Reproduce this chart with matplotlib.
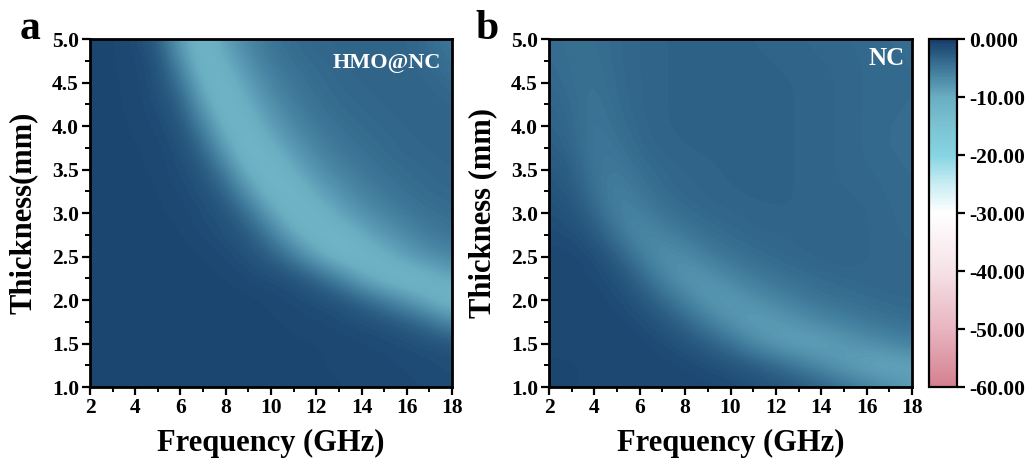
import numpy as np
import matplotlib
matplotlib.use("Agg")
import matplotlib.pyplot as plt
from matplotlib.colors import LinearSegmentedColormap, Normalize
from matplotlib.ticker import MultipleLocator
import matplotlib.cm as cm

plt.rcParams['font.family'] = ['Liberation Serif', 'DejaVu Serif']
plt.rcParams['font.weight'] = 'bold'

# Frequency (GHz) columns and thickness (mm) rows of the reflection-loss maps
freq = [2, 3, 4, 5, 6, 7, 8, 9, 10, 11, 12, 13, 14, 15, 16, 17, 18]
thick = [1.0, 1.25, 1.5, 1.75, 2.0, 2.25, 2.5, 2.75, 3.0,
         3.25, 3.5, 3.75, 4.0, 4.25, 4.5, 4.75, 5.0]

# Reflection loss (dB) of HMO@NC, one row per thickness (bottom to top)
rl_hmo = [
    [-0.7, -0.7, -0.7, -0.7, -0.8, -0.8, -0.8, -0.8, -0.8, -0.8, -0.9, -0.9, -1.0, -1.0, -1.1, -1.2, -1.3],
    [-0.8, -0.8, -0.8, -0.8, -0.8, -0.8, -0.8, -0.8, -0.8, -0.9, -0.9, -1.0, -1.0, -1.1, -1.2, -1.3, -1.5],
    [-0.8, -0.8, -0.8, -0.8, -0.8, -0.8, -0.8, -0.8, -0.8, -0.9, -0.9, -1.0, -1.1, -1.2, -1.4, -1.6, -1.9],
    [-0.8, -0.8, -0.8, -0.8, -0.8, -0.8, -0.8, -0.8, -0.9, -1.0, -1.1, -1.3, -1.5, -1.9, -2.7, -4.4, -7.0],
    [-0.8, -0.8, -0.8, -0.8, -0.8, -0.8, -0.8, -0.8, -1.0, -1.2, -1.5, -1.9, -3.3, -5.4, -7.9, -10.6, -12.0],
    [-0.8, -0.8, -0.8, -0.8, -0.8, -0.8, -0.9, -1.2, -1.4, -1.7, -3.3, -5.9, -9.5, -11.7, -12.5, -11.1, -9.6],
    [-0.8, -0.8, -0.8, -0.8, -0.8, -0.9, -1.2, -1.7, -2.7, -5.4, -9.0, -11.8, -12.1, -10.7, -8.6, -7.3, -6.2],
    [-0.8, -0.8, -0.8, -0.8, -0.9, -1.2, -1.6, -2.4, -5.4, -9.7, -11.9, -11.9, -9.9, -8.0, -6.6, -5.4, -4.8],
    [-0.8, -0.8, -0.8, -0.9, -1.0, -1.4, -2.0, -4.4, -9.0, -11.9, -11.6, -9.4, -7.4, -6.2, -5.1, -4.5, -4.1],
    [-0.8, -0.8, -0.8, -0.9, -1.2, -1.7, -3.3, -7.9, -11.8, -11.9, -9.4, -7.4, -6.0, -5.0, -4.3, -3.9, -3.7],
    [-0.8, -0.8, -0.9, -1.0, -1.4, -2.2, -5.9, -11.0, -12.1, -9.9, -7.4, -6.0, -5.0, -4.3, -3.9, -3.7, -3.5],
    [-0.8, -0.8, -0.9, -1.0, -1.6, -3.7, -9.0, -12.4, -10.7, -8.0, -6.2, -5.0, -4.3, -3.9, -3.6, -3.5, -3.3],
    [-0.8, -0.8, -1.0, -1.2, -2.0, -5.9, -11.3, -11.6, -8.6, -6.6, -5.1, -4.4, -3.9, -3.7, -3.5, -3.3, -3.3],
    [-0.8, -0.9, -1.0, -1.4, -2.9, -8.7, -12.5, -10.0, -7.3, -5.5, -4.5, -3.9, -3.7, -3.5, -3.3, -3.3, -3.5],
    [-0.8, -0.9, -1.0, -1.7, -4.4, -11.0, -11.6, -8.5, -6.2, -4.8, -4.1, -3.7, -3.5, -3.3, -3.3, -3.5, -4.1],
    [-0.8, -0.9, -1.1, -1.7, -7.0, -12.2, -10.1, -7.1, -5.2, -4.3, -3.8, -3.6, -3.3, -3.3, -3.4, -3.8, -4.6],
    [-0.8, -0.9, -1.2, -2.7, -9.0, -12.1, -8.6, -6.2, -4.7, -3.9, -3.6, -3.4, -3.3, -3.3, -3.5, -4.1, -5.2],
]

# Reflection loss (dB) of NC, one row per thickness (bottom to top)
rl_nc = [
    [-0.9, -0.9, -1.0, -1.0, -1.0, -1.0, -1.0, -1.0, -1.1, -1.4, -1.8, -2.3, -3.0, -4.2, -5.5, -6.9, -8.2],
    [-0.9, -0.9, -1.0, -1.0, -1.0, -1.0, -1.1, -1.4, -1.9, -2.5, -3.7, -5.1, -6.9, -8.5, -9.6, -10.0, -9.4],
    [-1.0, -1.0, -1.0, -1.0, -1.0, -1.3, -1.9, -2.9, -4.4, -6.6, -8.3, -9.3, -9.2, -8.2, -7.4, -6.5, -5.8],
    [-1.0, -1.0, -1.0, -1.0, -1.3, -2.1, -3.4, -5.5, -7.6, -8.8, -8.5, -7.5, -6.5, -5.8, -5.1, -4.6, -4.2],
    [-1.0, -1.0, -1.0, -1.2, -2.1, -3.7, -6.0, -8.1, -8.4, -7.3, -6.3, -5.4, -4.7, -4.3, -4.0, -3.8, -3.7],
    [-1.0, -1.0, -1.1, -1.7, -3.3, -6.0, -8.0, -7.7, -6.5, -5.4, -4.7, -4.2, -3.9, -3.7, -3.6, -3.5, -3.5],
    [-1.0, -1.0, -1.4, -2.7, -5.4, -7.5, -6.9, -5.7, -4.7, -4.2, -3.8, -3.6, -3.4, -3.3, -3.5, -3.6, -3.7],
    [-1.3, -1.4, -2.3, -4.7, -6.9, -6.2, -5.1, -4.3, -3.9, -3.6, -3.5, -3.4, -3.3, -3.3, -3.5, -3.7, -3.8],
    [-1.6, -1.9, -3.4, -6.0, -5.9, -4.7, -4.1, -3.7, -3.5, -3.4, -3.3, -3.3, -3.3, -3.3, -3.5, -3.7, -3.9],
    [-2.0, -2.5, -4.5, -6.0, -4.9, -4.0, -3.6, -3.4, -3.3, -3.2, -3.2, -3.3, -3.4, -3.5, -3.6, -3.8, -4.0],
    [-2.4, -2.9, -4.9, -5.3, -4.3, -3.7, -3.5, -3.4, -3.2, -3.2, -3.2, -3.3, -3.4, -3.6, -3.7, -3.9, -4.0],
    [-2.8, -3.5, -5.1, -4.7, -3.8, -3.4, -3.3, -3.2, -3.1, -3.1, -3.2, -3.3, -3.4, -3.6, -3.8, -4.0, -4.1],
    [-3.1, -3.8, -5.0, -4.3, -3.6, -3.3, -3.2, -3.1, -3.1, -3.1, -3.2, -3.3, -3.4, -3.6, -3.8, -4.0, -4.1],
    [-3.4, -4.0, -4.8, -4.0, -3.5, -3.3, -3.2, -3.1, -3.1, -3.1, -3.2, -3.3, -3.4, -3.6, -3.8, -3.9, -4.0],
    [-3.7, -4.2, -4.6, -3.9, -3.5, -3.3, -3.2, -3.1, -3.1, -3.1, -3.2, -3.3, -3.4, -3.6, -3.8, -3.9, -4.0],
    [-3.9, -4.3, -4.4, -3.8, -3.5, -3.3, -3.2, -3.1, -3.1, -3.2, -3.3, -3.4, -3.5, -3.6, -3.8, -3.9, -4.0],
    [-4.0, -4.4, -4.3, -3.8, -3.5, -3.3, -3.2, -3.2, -3.2, -3.3, -3.4, -3.5, -3.6, -3.7, -3.9, -4.0, -4.1],
]

cbar_ticks = [0, -10, -20, -30, -40, -50, -60]
cbar_labels = ["0.000", "-10.00", "-20.00", "-30.00", "-40.00", "-50.00", "-60.00"]

# Pink - white - cyan - navy scale running from -60 dB to 0 dB
rl_cmap = LinearSegmentedColormap.from_list("rl", [
    (0.000, "#d5808f"),
    (0.167, "#e8b5c1"),
    (0.333, "#f5e2e7"),
    (0.500, "#ffffff"),
    (0.583, "#c8edf3"),
    (0.667, "#86d4e2"),
    (0.750, "#7bc3d2"),
    (0.833, "#6aaec2"),
    (0.917, "#3e7899"),
    (1.000, "#153e6a"),
])
norm = Normalize(vmin=-60, vmax=0)

fig = plt.figure(figsize=(10.32, 4.63), dpi=100)
ax_a = fig.add_axes([0.0872, 0.1641, 0.3508, 0.7516])
ax_b = fig.add_axes([0.5320, 0.1641, 0.3517, 0.7516])
cax = fig.add_axes([0.9002, 0.1641, 0.0271, 0.7516])

df = (freq[1] - freq[0]) / 2
dt = (thick[1] - thick[0]) / 2
extent = [freq[0] - df, freq[-1] + df, thick[0] - dt, thick[-1] + dt]


def draw_map(ax, data, name, ylabel, letter, name_size, name_xy, letter_x):
    ax.imshow(np.array(data), origin="lower", extent=extent, aspect="auto",
              cmap=rl_cmap, norm=norm, interpolation="bicubic")
    ax.xaxis.set_major_locator(MultipleLocator(2))
    ax.xaxis.set_minor_locator(MultipleLocator(1))
    yt = [1.0, 1.5, 2.0, 2.5, 3.0, 3.5, 4.0, 4.5, 5.0]
    ax.set_yticks(yt)
    ax.set_yticklabels([f"{v:.1f}" for v in yt])
    ax.yaxis.set_minor_locator(MultipleLocator(0.25))
    ax.set_xlim(freq[0], freq[-1])
    ax.set_ylim(thick[0], thick[-1])
    ax.tick_params(which="major", direction="out", length=6, width=1.6,
                   labelsize=15.5, pad=2)
    ax.tick_params(which="minor", direction="out", length=3.5, width=1.4)
    for lab in ax.get_xticklabels() + ax.get_yticklabels():
        lab.set_fontweight("bold")
    for sp in ax.spines.values():
        sp.set_linewidth(2.0)
    ax.set_xlabel("Frequency (GHz)", fontsize=22, fontweight="bold", labelpad=8)
    ax.set_ylabel(ylabel, fontsize=22, fontweight="bold", labelpad=10)
    ax.text(name_xy[0], name_xy[1], name, transform=ax.transAxes, color="white",
            fontsize=name_size, fontweight="bold", ha="right", va="center")
    fig.text(letter_x, 0.915, letter, fontsize=30, fontweight="bold",
             ha="left", va="baseline")


draw_map(ax_a, rl_hmo, "HMO@NC", "Thickness(mm)", "a", 16, (0.97, 0.93), 0.019)
draw_map(ax_b, rl_nc, "NC", "Thickness (mm)", "b", 18, (0.98, 0.945), 0.461)

sm = cm.ScalarMappable(norm=norm, cmap=rl_cmap)
cb = fig.colorbar(sm, cax=cax)
cb.set_ticks(cbar_ticks)
cb.set_ticklabels(cbar_labels)
cb.outline.set_linewidth(1.6)
cax.tick_params(direction="out", length=6, width=1.6, labelsize=15.5, pad=3)
for lab in cax.get_yticklabels():
    lab.set_fontweight("bold")

fig.savefig("out.png", dpi=100)
